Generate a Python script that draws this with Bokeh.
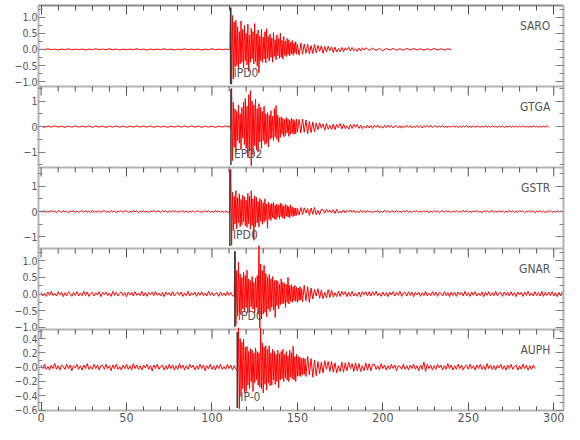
import math
from bokeh.plotting import figure
from bokeh.models import (Range1d, FixedTicker, LinearAxis, Label, Span,
                          CustomJSTickFormatter, CustomLabelingPolicy)
from bokeh.embed import file_html
from bokeh.resources import INLINE

# ---------------- data ----------------
stations = ["SARO", "GTGA", "GSTR", "GNAR", "AUPH"]
pick_times = [110.9, 111.1, 110.5, 113.4, 114.8]
pick_labels = ["IPD0", "EPD2", "IPD0", "IPD0", "IP-0"]
y_limits = [(-1.15, 1.36), (-1.60, 1.57), (-1.46, 1.74), (-1.06, 1.36), (-0.606, 0.527)]
y_major = [[-1.0, -0.5, 0.0, 0.5, 1.0], [-1, 0, 1], [-1, 0, 1],
           [-1.0, -0.5, 0.0, 0.5, 1.0], [-0.6, -0.4, -0.2, 0.0, 0.2, 0.4]]
y_major_labels = [["\u22121.0", "\u22120.5", "0.0", "0.5", "1.0"],
                  ["\u22121", "0", "1"], ["\u22121", "0", "1"],
                  ["\u22121.0", "\u22120.5", "0.0", "0.5", "1.0"],
                  ["\u22120.6", "\u22120.4", "\u22120.2", "\u22120.0", "0.2", "0.4"]]
y_minor = [[-0.75, -0.25, 0.25, 0.75, 1.25], [-1.5, -0.5, 0.5, 1.5], [-1.5, -0.5, 0.5, 1.5],
           [-0.75, -0.25, 0.25, 0.75, 1.25], [-0.5, -0.3, -0.1, 0.1, 0.3, 0.5]]
x_major = [0, 50, 100, 150, 200, 250, 300]
x_minor = [10, 20, 30, 40, 60, 70, 80, 90, 110, 120, 130, 140, 160, 170, 180, 190,
           210, 220, 230, 240, 260, 270, 280, 290]

# Traces: segments of (start time [s], sample step [s], amplitudes)
saro_noise = [0.01, -0.01, 0.02, -0.01, 0.01, -0.02, 0.01, -0.01, 0.02, -0.01,
              0.01, -0.01, 0.01, -0.02, 0.01, -0.01, 0.02, -0.01, 0.01, -0.01,
              0.02, -0.01, 0.01, -0.02, 0.01, -0.01, 0.01, -0.01, 0.02, -0.01,
              0.01, -0.02, 0.01, -0.01, 0.01, -0.01, 0.02, -0.01, 0.01, -0.02,
              0.01, -0.01, 0.02, -0.01, 0.01, -0.01, 0.01, -0.02, 0.01, -0.01,
              0.02, -0.01, 0.01, -0.01, 0.01, -0.01]
saro_main = [0.02, 1.30, -1.08, 1.05, -0.92, 0.85, -0.55, 0.90, -0.50, 0.70,
             -0.62, 0.55, -0.45, 0.88, -0.40, 0.62, -0.58, 0.75, -0.35, 0.50,
             -0.48, 0.78, -0.68, 0.45, -0.40, 0.65, -0.30, 0.55, -0.45, 0.80,
             -0.38, 0.48, -0.52, 0.60, -0.72, 0.42, -0.35, 0.62, -0.40, 0.38,
             -0.30, 0.55, -0.42, 0.64, -0.28, 0.40, -0.36, 0.48, -0.25, 0.35,
             -0.40, 0.52, -0.22, 0.30, -0.32, 0.45, -0.20, 0.34, -0.28, 0.50,
             -0.24, 0.28, -0.30, 0.40, -0.18, 0.26, -0.22, 0.34, -0.16, 0.30,
             -0.20, 0.22, -0.14, 0.28, -0.18, 0.20, -0.12, 0.24, -0.15, 0.16]
saro_coda = [-0.18, 0.20, -0.15, 0.17, -0.12, 0.16, -0.14, 0.12, -0.13, 0.15,
             -0.10, 0.12, -0.06, 0.11, -0.12, 0.09, -0.08, 0.10, -0.04, 0.08,
             -0.10, 0.07, -0.08, 0.03, -0.07, 0.06, -0.07, 0.05, -0.02, 0.07,
             -0.05, 0.06, -0.04, 0.02, -0.06, 0.04, -0.05, 0.05, -0.02, 0.05]
saro_tail = [-0.03, 0.04, -0.03, 0.03, -0.04, 0.03, -0.02, 0.03, -0.03, 0.02,
             -0.03, 0.03, -0.02, 0.03, -0.02, 0.02, -0.03, 0.02, -0.02, 0.03,
             -0.02, 0.02, -0.02, 0.02, -0.01]

gtga_noise = [0.02, -0.03, 0.02, -0.02, 0.03, -0.02, 0.02, -0.03, 0.02, -0.02,
              0.03, -0.02, 0.02, -0.02, 0.03, -0.03, 0.02, -0.02, 0.02, -0.03,
              0.02, -0.02, 0.03, -0.02, 0.02, -0.03, 0.02, -0.02, 0.03, -0.02,
              0.02, -0.02, 0.03, -0.03, 0.02, -0.02, 0.02, -0.03, 0.02, -0.02,
              0.03, -0.02, 0.02, -0.02, 0.03, -0.02, 0.02, -0.03, 0.02, -0.02,
              0.02, -0.03, 0.02, -0.02, 0.03, -0.02]
gtga_main = [0.03, -0.10, 1.50, -1.33, 0.95, -0.80, 0.70, -1.00, 0.60, -0.55,
             0.85, -0.65, 0.50, -0.90, 0.75, -0.45, 0.95, -0.70, 1.10, -0.85,
             0.80, -1.20, 1.25, -0.95, 1.41, -1.53, 1.00, -1.10, 0.85, -0.75,
             1.08, -0.90, 0.70, -1.00, 0.90, -0.60, 0.75, -0.85, 0.60, -0.55,
             0.80, -0.70, 0.50, -0.65, 0.55, -0.80, 0.45, -0.50, 0.62, -0.45,
             0.40, -0.55, 0.70, -0.40, 0.82, -0.50, 0.45, -0.60, 0.35, -0.42,
             0.37, -0.30, 0.32, -0.40, 0.28, -0.35, 0.36, -0.25, 0.30, -0.38,
             0.25, -0.30, 0.33, -0.26, 0.28, -0.30, 0.24, -0.28, 0.30, -0.22]
gtga_coda = [0.28, -0.25, 0.30, -0.22, 0.26, -0.28, 0.20, -0.24, 0.18, -0.20,
             0.14, -0.12, 0.15, -0.06, 0.11, -0.14, 0.12, -0.10, 0.05, -0.11,
             0.10, -0.12, 0.09, -0.04, 0.12, -0.09, 0.10, -0.08, 0.03, -0.10,
             0.08, -0.07, 0.09, -0.03, 0.08, -0.07, 0.06, -0.08, 0.02, -0.06]
gtga_tail = [0.06, -0.05, 0.04, -0.07, 0.05, -0.03, 0.06, -0.05, 0.02, -0.06,
             0.05, -0.04, 0.06, -0.03, 0.04, -0.05, 0.03, 0.02, -0.05, 0.04,
             -0.06, 0.03, -0.04, 0.05, -0.03, 0.04, -0.05, 0.02, -0.03, 0.05,
             -0.04, 0.03, -0.05, 0.04, -0.02, 0.04, -0.03, 0.05, -0.04, 0.02,
             0.03, -0.04, 0.03, -0.02, 0.04, -0.03, 0.02, -0.04, 0.03, -0.03,
             0.04, -0.02, 0.03, -0.04, 0.02, -0.03, 0.03, -0.02, 0.04, -0.03,
             0.02, -0.03, 0.03, -0.04, 0.02, 0.01, -0.03, 0.03, -0.02, 0.03,
             -0.03, 0.02, -0.03, 0.04, -0.02, 0.02, -0.03, 0.03, -0.02, 0.03,
             -0.04, 0.02, -0.02, 0.03, -0.03, 0.02, -0.02, 0.03, -0.03, 0.02,
             -0.02, 0.03, -0.02, 0.02, -0.03, 0.02, -0.02, 0.03, -0.02, 0.02,
             -0.03, 0.02, -0.02, 0.02, -0.02, 0.03, -0.02]

gstr_noise = [0.03, -0.02, 0.04, -0.04, 0.01, -0.03, 0.05, -0.02, 0.02, -0.04,
              0.03, 0.01, -0.03, 0.04, -0.02, 0.02, -0.05, 0.03, -0.01, 0.04,
              -0.03, 0.02, -0.04, 0.01, 0.03, -0.03, 0.04, -0.02, 0.02, -0.04,
              0.05, -0.03, 0.01, -0.02, 0.04, -0.04, 0.02, 0.03, -0.03, 0.01,
              -0.04, 0.04, -0.02, 0.03, -0.05, 0.02, -0.01, 0.04, -0.03, 0.02,
              0.03, -0.04, 0.02, -0.03, 0.04, -0.01, 0.03, -0.04, 0.02, -0.02,
              0.04, -0.03, 0.01, -0.04, 0.03, -0.02, 0.05, -0.03, 0.02, 0.01,
              -0.03, 0.04, -0.02, 0.03, -0.04, 0.02, -0.03, 0.04, -0.01, 0.03,
              -0.04, 0.02, -0.02, 0.04, -0.03, 0.03, -0.05, 0.02, -0.02, 0.04,
              -0.03, 0.01, 0.03, -0.04, 0.02, -0.03, 0.04, -0.02, 0.03, -0.04,
              0.02, -0.03, 0.04, -0.02, 0.03, -0.03, 0.02, -0.04, 0.03, -0.02]
gstr_main = [-0.03, 0.05, 1.67, -1.33, 0.76, -0.75, 0.60, -0.50, 0.82, -0.68,
             0.55, -0.45, 0.70, -0.60, 0.48, -0.52, 0.65, -0.40, 0.58, -0.55,
             0.45, -0.62, 0.72, -0.48, 0.60, -0.70, 0.82, -0.55, 0.50, -1.14,
             0.62, -0.60, 0.56, -0.45, 0.40, -0.61, 0.52, -0.38, 0.45, -0.50,
             0.35, -0.42, 0.50, -0.35, 0.30, -0.66, 0.37, -0.30, 0.28, -0.35,
             0.32, -0.25, 0.36, -0.30, 0.25, -0.32, 0.30, -0.22, 0.26, -0.28,
             0.34, -0.20, 0.28, -0.26, 0.22, -0.29, 0.30, -0.18, 0.24, -0.22,
             0.20, -0.25, 0.27, -0.16, 0.18, -0.20, 0.15, -0.17, 0.14, -0.15,
             0.12]
gstr_coda = [-0.14, 0.16, -0.12, 0.15, -0.06, 0.12, -0.15, 0.14, -0.11, 0.16,
             -0.12, 0.05, -0.12, 0.09, 0.07, -0.06, 0.08, -0.03, 0.06, -0.05,
             0.07, -0.08, 0.09, -0.06, 0.02, -0.05, 0.06, -0.06, 0.05, -0.02,
             0.06, -0.04, 0.05, -0.05, 0.02, -0.05, 0.05, -0.04, 0.04, -0.05]
gstr_tail = [0.04, -0.03, 0.02, -0.05, 0.03, -0.02, 0.04, -0.04, 0.01, -0.03,
             0.05, -0.02, 0.03, -0.04, 0.02, 0.01, -0.03, 0.04, -0.03, 0.02,
             -0.04, 0.03, -0.02, 0.05, -0.03, 0.02, -0.04, 0.03, -0.01, 0.04,
             -0.03, 0.02, -0.03, 0.04, -0.02, 0.03, -0.05, 0.02, -0.02, 0.04,
             -0.03, 0.03, -0.04, 0.01, 0.03, -0.03, 0.04, -0.02, 0.02, -0.04,
             0.03, -0.02, 0.04, -0.03, 0.02, -0.04, 0.05, -0.02, 0.03, -0.03,
             0.02, -0.04, 0.03, -0.01, 0.04, -0.03, 0.02, -0.05, 0.03, -0.02,
             0.04, -0.03, 0.01, 0.03, -0.04, 0.02, -0.03, 0.04, -0.02, 0.03,
             -0.04, 0.02, -0.03, 0.05, -0.02, 0.03, -0.04, 0.02, -0.03, 0.04,
             -0.01, 0.03, -0.04, 0.02, -0.03, 0.04, -0.02, 0.03, -0.05, 0.02,
             -0.02, 0.04, -0.03, 0.02, -0.04, 0.03, -0.02, 0.04, -0.03, 0.01,
             -0.03, 0.04, -0.02, 0.03, -0.04]

gnar_noise = [0.05, -0.06, 0.03, -0.07, 0.06, -0.04, 0.08, -0.05, 0.02, -0.06,
              0.07, -0.03, 0.05, -0.08, 0.04, -0.05, 0.06, 0.02, -0.07, 0.05,
              -0.04, 0.07, -0.06, 0.03, -0.05, 0.08, -0.04, 0.06, -0.07, 0.02,
              0.05, -0.06, 0.04, -0.03, 0.07, -0.08, 0.05, -0.02, 0.06, -0.05,
              0.03, -0.07, 0.08, -0.04, 0.05, -0.06, 0.02, 0.06, -0.05, 0.04,
              -0.08, 0.06, -0.03, 0.05, -0.06, 0.07, -0.04, 0.03, -0.05, 0.08,
              -0.06, 0.04, -0.07, 0.05, -0.02, 0.06, -0.05, 0.07, -0.04, 0.03,
              -0.06, 0.05, -0.08, 0.06, -0.03, 0.04, -0.05, 0.07, -0.06, 0.02,
              0.05, -0.04, 0.06, -0.07, 0.03, -0.05, 0.08, -0.06, 0.04, -0.03,
              0.06, -0.07, 0.05, -0.04, 0.07, -0.05, 0.03, -0.06, 0.08, -0.04,
              0.05, -0.06, 0.02, 0.04, -0.07, 0.06, -0.05, 0.03, -0.06, 0.07,
              -0.04, 0.05, -0.06]
gnar_main = [-0.05, 1.26, -0.94, 0.70, -0.66, 0.95, -0.55, 0.60, -0.62, 0.50,
             -0.45, 0.65, -0.50, 0.56, -0.40, 0.71, -0.56, 0.45, -0.50, 0.40,
             -0.38, 0.52, -0.45, 0.35, -0.56, 0.48, -0.40, 0.55, -0.60, 1.45,
             -1.01, 0.90, -0.75, 0.70, -0.60, 0.86, -0.55, 0.62, -0.68, 0.50,
             -0.45, 0.58, -0.52, 0.45, -0.40, 0.52, -0.48, 0.40, -0.70, 0.42,
             -0.35, 0.38, -0.45, 0.30, -0.32, 0.45, -0.30, 0.35, -0.28, 0.32,
             -0.40, 0.28, -0.25, 0.50, -0.30, 0.26, -0.22, 0.28, -0.25, 0.22,
             -0.20, 0.26, -0.22, 0.20, -0.25, 0.18, -0.20, 0.22, -0.18, 0.16]
gnar_coda = [-0.24, 0.26, -0.20, 0.22, -0.25, 0.18, -0.15, 0.14, -0.06, 0.16,
             -0.13, 0.12, -0.14, 0.05, -0.12, 0.13, -0.10, 0.12, -0.09, 0.04,
             -0.08, 0.09, -0.07, 0.08, -0.03, 0.07, -0.08, 0.06, -0.07, 0.08,
             -0.06, 0.03, -0.07, 0.06, -0.08, 0.07, -0.02, 0.07, -0.06, 0.07]
gnar_tail = [-0.06, 0.07, -0.04, 0.08, -0.05, 0.03, -0.07, 0.06, -0.05, 0.04,
             -0.08, 0.06, -0.03, 0.07, -0.06, 0.05, -0.04, 0.08, -0.07, 0.03,
             0.05, -0.06, 0.07, -0.04, 0.06, -0.08, 0.05, -0.03, 0.06, -0.07,
             0.04, -0.05, 0.08, -0.06, 0.03, -0.05, 0.07, -0.04, 0.06, -0.07,
             0.05, 0.02, -0.06, 0.07, -0.05, 0.04, -0.08, 0.06, -0.04, 0.05,
             -0.07, 0.06, -0.03, 0.05, -0.06, 0.08, -0.05, 0.04, -0.07, 0.06,
             -0.04, 0.07, -0.06, 0.03, -0.05, 0.06, -0.08, 0.05, -0.04, 0.07,
             -0.06, 0.04, -0.05, 0.08, -0.06, 0.03, 0.05, -0.07, 0.06, -0.04,
             0.05, -0.06, 0.07, -0.05, 0.04, -0.08, 0.06, -0.03, 0.05, -0.07,
             0.06, -0.04, 0.08, -0.05, 0.03, -0.06, 0.07, -0.05, 0.04, -0.06,
             0.08, -0.07, 0.05, -0.04, 0.06, -0.05, 0.07, -0.06, 0.04, -0.08,
             0.05, -0.06, 0.07]

auph_noise = [0.03, -0.02, 0.04, -0.03, 0.01, -0.04, 0.03, -0.02, 0.05, -0.03,
              0.02, -0.04, 0.03, 0.01, -0.03, 0.04, -0.02, 0.03, -0.05, 0.02,
              -0.01, 0.04, -0.03, 0.02, -0.04, 0.03, -0.02, 0.05, -0.03, 0.01,
              -0.03, 0.04, -0.02, 0.03, -0.04, 0.02, 0.03, -0.03, 0.04, -0.02,
              0.02, -0.05, 0.03, -0.02, 0.04, -0.03, 0.01, -0.04, 0.03, -0.02,
              0.04, -0.03, 0.02, -0.04, 0.05, -0.02, 0.03, -0.03, 0.02, -0.04,
              0.03, -0.01, 0.04, -0.03, 0.02, -0.05, 0.03, -0.02, 0.04, -0.03,
              0.01, 0.03, -0.04, 0.02, -0.03, 0.04, -0.02, 0.03, -0.04, 0.02,
              -0.03, 0.05, -0.02, 0.03, -0.04, 0.02, -0.03, 0.04, -0.01, 0.03,
              -0.04, 0.02, -0.03, 0.04, -0.02, 0.03, -0.05, 0.02, -0.02, 0.04,
              -0.03, 0.02, -0.04, 0.03, -0.02, 0.04, -0.03, 0.01, -0.03, 0.04,
              -0.02, 0.03, -0.04, 0.02, -0.03]
auph_main = [-0.05, 0.55, -0.58, 0.40, -0.41, 0.35, -0.30, 0.39, -0.36, 0.28,
             -0.34, 0.29, -0.25, 0.22, -0.30, 0.26, -0.20, 0.24, -0.34, 0.20,
             -0.22, 0.27, -0.18, 0.22, -0.25, 0.20, -0.28, 0.55, -0.30, 0.34,
             -0.36, 0.28, -0.24, 0.30, -0.32, 0.25, -0.22, 0.30, -0.26, 0.20,
             -0.25, 0.25, -0.18, 0.22, -0.24, 0.18, -0.20, 0.24, -0.29, 0.19,
             -0.18, 0.22, -0.16, 0.25, -0.20, 0.18, -0.15, 0.22, -0.18, 0.16,
             -0.20, 0.24, -0.14, 0.20, -0.16, 0.29, -0.18, 0.15, -0.20, 0.18,
             -0.13, 0.15, -0.12, 0.14, -0.13, 0.12, -0.11, 0.13, -0.10, 0.12]
auph_coda = [-0.13, 0.15, -0.11, 0.12, -0.14, 0.10, -0.12, 0.08, -0.09, 0.07,
             -0.08, 0.09, -0.03, 0.08, -0.06, 0.08, -0.07, 0.06, -0.08, 0.02,
             -0.06, 0.07, -0.07, 0.06, -0.05, 0.07, -0.02, 0.05, -0.06, 0.06,
             -0.05, 0.05, -0.06, 0.02, -0.05, 0.06, -0.04, 0.05, -0.05, 0.04]
auph_tail = [0.04, -0.03, 0.02, -0.04, 0.05, -0.02, 0.03, -0.04, 0.02, -0.03,
             0.04, -0.02, 0.03, -0.05, 0.02, 0.01, -0.03, 0.04, -0.03, 0.02,
             -0.04, 0.03, -0.02, 0.04, -0.03, 0.02, -0.05, 0.03, -0.03, 0.07,
             -0.06, 0.04, -0.02, 0.03, -0.04, 0.02, -0.03, 0.04, -0.01, 0.03,
             -0.04, 0.02, -0.03, 0.05, -0.02, 0.03, -0.04, 0.02, -0.03, 0.04,
             -0.02, 0.03, -0.04, 0.01, 0.03, -0.03, 0.04, -0.02, 0.02, -0.04,
             0.03, -0.02, 0.04, -0.03, 0.02, -0.04, 0.05, -0.02, 0.03, -0.03,
             0.02, -0.04, 0.03, -0.01, 0.04, -0.03, 0.02, -0.04, 0.03, -0.02,
             0.04, -0.03, 0.01, 0.03, -0.04, 0.02, -0.03, 0.04, -0.02, 0.03,
             -0.04, 0.02, -0.03, 0.03, -0.02]

trace_segments = [
    [(0, 2.0, saro_noise), (110.5, 0.5, saro_main), (151, 1.0, saro_coda), (192, 2.0, saro_tail)],
    [(0, 2.0, gtga_noise), (110.5, 0.5, gtga_main), (151, 1.0, gtga_coda), (191, 1.0, gtga_tail)],
    [(0, 1.0, gstr_noise), (110.0, 0.5, gstr_main), (151, 1.0, gstr_coda), (191, 1.0, gstr_tail)],
    [(0, 1.0, gnar_noise), (113.0, 0.5, gnar_main), (153, 1.0, gnar_coda), (193, 1.0, gnar_tail)],
    [(0, 1.0, auph_noise), (115.0, 0.5, auph_main), (155, 1.0, auph_coda), (195, 1.0, auph_tail)],
]

# ---------------- style ----------------
FONT = "'Liberation Sans Narrow', 'DejaVu Sans Condensed', 'Liberation Sans', sans-serif"
TXT = "#555555"
FRAME = "#b4b4b4"
TOPLINE = "#8a8a8a"
TICK = "#505050"
YTICK = "#808080"
FRAME_W = 525
PANEL_PX = 81
N = len(stations)
X_RANGE = (-1.5, 305.7)


def build(segments):
    ts, vs = [], []
    for start, dt, vals in segments:
        for i, v in enumerate(vals):
            ts.append(start + dt * i)
            vs.append(v)
    return ts, vs


def to_panel(k, v):
    """Map a value of station k into the stacked panel coordinate (panel k spans [N-1-k, N-k])."""
    ys, ye = y_limits[k]
    return (N - 1 - k) + (v - ys) / (ye - ys)


no_labels = "const all = [...indices]; for (const i of all) indices.unset(i); return indices;"

p = figure(frame_width=FRAME_W, frame_height=PANEL_PX * N,
           x_range=Range1d(*X_RANGE), y_range=Range1d(0, N),
           x_axis_location=None, y_axis_location=None,
           toolbar_location=None, output_backend="svg",
           min_border_left=38, min_border_right=3, min_border_top=5, min_border_bottom=20,
           outline_line_color=None,
           background_fill_color="white", border_fill_color="white")
p.grid.visible = False

# y axes (one ticker holding every panel's ticks)
yt_vals, yt_texts, ym_vals = [], [], []
for k in range(N):
    for v, s in zip(y_major[k], y_major_labels[k]):
        yt_vals.append(to_panel(k, v))
        yt_texts.append(s)
    for v in y_minor[k]:
        if y_limits[k][0] < v < y_limits[k][1]:
            ym_vals.append(to_panel(k, v))

y_fmt = CustomJSTickFormatter(args=dict(tvals=yt_vals, ttexts=yt_texts), code="""
    for (let i = 0; i < tvals.length; i++) {
        if (Math.abs(tvals[i] - tick) < 1e-9) return ttexts[i];
    }
    return '';
""")

common = dict(major_tick_out=0, minor_tick_out=0, axis_line_width=2,
              major_label_text_font=FONT, major_label_text_color=TXT)

left = LinearAxis(ticker=FixedTicker(ticks=yt_vals, minor_ticks=ym_vals), formatter=y_fmt,
                  major_tick_in=7, minor_tick_in=4, axis_line_color=FRAME,
                  major_tick_line_color=YTICK, minor_tick_line_color=YTICK,
                  major_label_text_font_size="10.5px", major_label_standoff=1, **common)
right = LinearAxis(ticker=FixedTicker(ticks=yt_vals, minor_ticks=ym_vals),
                   major_tick_in=8, minor_tick_in=4, axis_line_color=FRAME,
                   major_tick_line_color=YTICK, minor_tick_line_color=YTICK,
                   major_label_text_font_size="1px", major_label_standoff=0,
                   major_label_policy=CustomLabelingPolicy(code=no_labels), **common)
top = LinearAxis(ticker=FixedTicker(ticks=x_major, minor_ticks=x_minor),
                 major_tick_in=9, minor_tick_in=5, axis_line_color=TOPLINE,
                 major_tick_line_color=TICK, minor_tick_line_color=TICK,
                 major_label_text_font_size="1px", major_label_standoff=0,
                 major_label_policy=CustomLabelingPolicy(code=no_labels), **common)
bottom = LinearAxis(ticker=FixedTicker(ticks=x_major, minor_ticks=x_minor),
                    major_tick_in=8, minor_tick_in=4, axis_line_color=FRAME,
                    major_tick_line_color=TICK, minor_tick_line_color=TICK,
                    major_label_text_font_size="12.5px", major_label_standoff=2, **common)
p.add_layout(left, "left")
p.add_layout(right, "right")
p.add_layout(top, "above")
p.add_layout(bottom, "below")

# panel separators, with the x ticks of the panel below pointing down into it
for k in range(1, N):
    sep = N - k
    p.add_layout(Span(location=sep, dimension="width", line_color=FRAME, line_width=2,
                      level="underlay"))
    p.ray(x=x_major, y=[sep] * len(x_major), length=9, length_units="screen",
          angle=-math.pi / 2, line_color=TICK, line_width=1)
    p.ray(x=x_minor, y=[sep] * len(x_minor), length=5, length_units="screen",
          angle=-math.pi / 2, line_color=TICK, line_width=1)

# traces
for k in range(N):
    t, v = build(trace_segments[k])
    p.line(t, [to_panel(k, a) for a in v], line_color="#ff0000", line_width=1)

# picks and station names
for k, st in enumerate(stations):
    base = N - 1 - k
    p.segment(x0=[pick_times[k]], y0=[base + 0.03], x1=[pick_times[k]], y1=[base + 0.97],
              line_color="#3a3a3a", line_width=1.5)
    p.add_layout(Label(x=pick_times[k], y=base + 14.0 / PANEL_PX, x_offset=3,
                       text=pick_labels[k], text_font=FONT, text_font_size="12px",
                       text_color=TXT, text_baseline="middle", text_align="left"))
    p.add_layout(Label(x=298, y=base + 1 - 20.0 / PANEL_PX, text=st,
                       text_font=FONT, text_font_size="12px", text_color=TXT,
                       text_baseline="middle", text_align="right"))

open("out.html", "w").write(file_html(p, INLINE))
